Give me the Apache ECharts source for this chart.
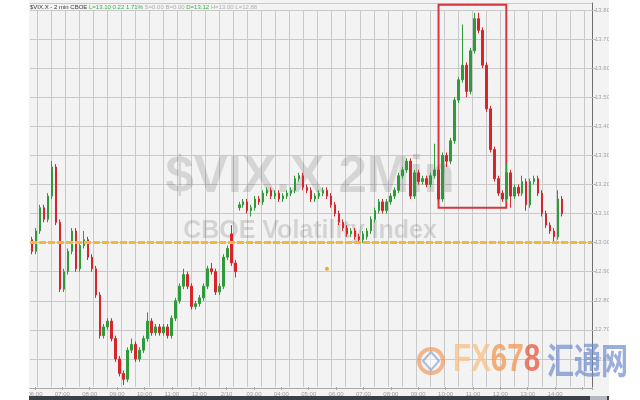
<!DOCTYPE html>
<html><head><meta charset="utf-8">
<script src="https://cdn.jsdelivr.net/npm/echarts@6/dist/echarts.min.js"></script>
<style>html,body{margin:0;padding:0;background:#fff}#c{width:640px;height:400px}</style>
</head><body><div id="c"></div>
<script>
// ---- data (VIX 2-min candles) ----
const opens=[13.01,12.97,13.04,13.12,13.08,13.16,13.26,13.07,12.84,12.90,
12.97,13.04,12.91,12.99,13.01,12.95,12.91,12.82,12.68,12.71,
12.73,12.67,12.60,12.55,12.53,12.63,12.65,12.60,12.63,12.67,
12.73,12.69,12.71,12.69,12.71,12.68,12.74,12.80,12.85,12.89,
12.85,12.78,12.79,12.81,12.85,12.91,12.90,12.83,12.85,12.95,
13.03,12.93,13.12,13.13,13.14,13.11,13.12,13.15,13.14,13.17,
13.18,13.16,13.17,13.15,13.16,13.17,13.18,13.22,13.23,13.19,
13.18,13.15,13.16,13.17,13.18,13.16,13.13,13.10,13.07,13.05,
13.03,13.04,13.02,13.01,13.02,13.04,13.08,13.11,13.14,13.11,
13.14,13.16,13.18,13.23,13.25,13.28,13.16,13.24,13.21,13.22,
13.20,13.23,13.25,13.15,13.30,13.28,13.35,13.49,13.56,13.61,
13.52,13.66,13.77,13.73,13.61,13.46,13.32,13.22,13.17,13.15,
13.24,13.16,13.19,13.17,13.21,13.13,13.21,13.22,13.17,13.10,
13.06,13.04,13.02,13.15];
const closes=[12.97,13.04,13.12,13.08,13.16,13.26,13.07,12.84,12.90,12.97,
13.04,12.91,12.99,13.01,12.95,12.91,12.82,12.68,12.71,12.73,
12.67,12.60,12.55,12.53,12.63,12.65,12.60,12.63,12.67,12.73,
12.69,12.71,12.69,12.71,12.68,12.74,12.80,12.85,12.89,12.85,
12.78,12.79,12.81,12.85,12.91,12.90,12.83,12.85,12.95,12.98,
12.93,12.90,13.13,13.14,13.11,13.12,13.15,13.14,13.17,13.18,
13.16,13.17,13.15,13.16,13.17,13.18,13.22,13.23,13.19,13.18,
13.15,13.16,13.17,13.18,13.16,13.13,13.10,13.07,13.05,13.03,
13.04,13.02,13.01,13.03,13.04,13.08,13.11,13.14,13.11,13.14,
13.16,13.18,13.23,13.25,13.28,13.16,13.24,13.21,13.22,13.20,
13.23,13.25,13.15,13.30,13.28,13.35,13.49,13.56,13.61,13.52,
13.66,13.77,13.73,13.61,13.46,13.32,13.22,13.17,13.15,13.24,
13.16,13.19,13.17,13.21,13.13,13.21,13.22,13.17,13.10,13.06,
13.04,13.02,13.15,13.10];
const lows=[12.96,12.96,13.03,13.07,13.07,13.15,13.06,12.83,12.83,12.89,
12.96,12.90,12.90,12.98,12.94,12.90,12.81,12.67,12.67,12.70,
12.66,12.59,12.54,12.51,12.52,12.62,12.59,12.59,12.62,12.66,
12.68,12.68,12.68,12.68,12.67,12.67,12.73,12.79,12.84,12.84,
12.77,12.77,12.78,12.80,12.84,12.89,12.82,12.82,12.84,12.94,
12.92,12.88,13.11,13.12,13.10,13.09,13.11,13.13,13.13,13.16,
13.15,13.15,13.14,13.14,13.15,13.16,13.17,13.21,13.18,13.17,
13.14,13.14,13.15,13.16,13.15,13.12,13.09,13.06,13.04,13.02,
13.02,13.01,13.00,13.00,13.01,13.03,13.07,13.10,13.10,13.10,
13.13,13.15,13.17,13.22,13.24,13.15,13.15,13.20,13.20,13.19,
13.19,13.22,13.14,13.14,13.26,13.27,13.34,13.48,13.55,13.50,
13.51,13.65,13.72,13.60,13.45,13.31,13.21,13.16,13.14,13.14,
13.12,13.15,13.16,13.16,13.11,13.12,13.20,13.16,13.09,13.05,
13.03,13.00,13.01,13.09];
const highs=[13.02,13.05,13.13,13.13,13.17,13.28,13.27,13.08,12.91,12.98,
13.05,13.05,13.00,13.04,13.02,12.96,12.92,12.83,12.72,12.74,
12.74,12.68,12.61,12.56,12.64,12.67,12.66,12.64,12.68,12.76,
12.74,12.72,12.72,12.72,12.72,12.75,12.81,12.86,12.91,12.90,
12.86,12.80,12.82,12.86,12.92,12.93,12.91,12.86,12.96,12.99,
13.06,12.94,13.14,13.15,13.15,13.13,13.16,13.16,13.18,13.19,
13.19,13.18,13.18,13.17,13.18,13.19,13.23,13.24,13.24,13.20,
13.19,13.17,13.18,13.19,13.19,13.17,13.14,13.11,13.08,13.06,
13.05,13.05,13.03,13.04,13.05,13.09,13.12,13.15,13.15,13.15,
13.17,13.19,13.24,13.26,13.29,13.29,13.25,13.25,13.23,13.23,
13.24,13.34,13.26,13.31,13.31,13.36,13.50,13.57,13.75,13.62,
13.67,13.79,13.79,13.74,13.62,13.47,13.33,13.23,13.18,13.27,
13.25,13.20,13.20,13.23,13.22,13.22,13.23,13.23,13.18,13.11,
13.07,13.05,13.18,13.16];
const slotCount = 141;            // candle slots on the axis (incl. empty future)
const timeLabels = ["06:00","07:00","08:00","09:00","10:00","11:00","12:00","2/10","03:00","04:00",
"05:00","06:00","07:00","08:00","09:00","10:00","11:00","12:00","13:00","14:00"];
const priceMin = 12.5, priceMax = 13.824, priceStep = 0.1;
const refLevel = 13.00;           // orange dashed level
const lastPrice = 13.10;          // green price tag
const boxSlots = [102, 119];      // red highlight box (slots)
const boxPrices = [13.12, 13.818]; // red highlight box (price range)
const eventMark = [74, 12.91];    // small orange marker
const headerParts = ["$VIX.X - 2 min CBOE","L=13.10 0.22 1.71%","S=0.00 B=0.00","D=13.12","H=13.00 L=12.88"];

// ---- chart ----
const slots = Array.from({length: slotCount}, (_, i) => i);
const candles = opens.map((o, i) => [o, closes[i], lows[i], highs[i]]);
const UP = '#2f9a3a', DOWN = '#d6262b';
const onStep = v => Math.abs(v * 10 - Math.round(v * 10)) < 1e-6;
const chart = echarts.init(document.getElementById('c'), null, {renderer:'canvas', width:640, height:400});
const option = {
  animation:false,
  backgroundColor:'#f3f3f3',
  grid:[
    {left:30, right:48, top:3, bottom:12, outerBoundsMode:'none'},
    {left:37, right:48, top:10, bottom:13, outerBoundsMode:'none'},
    {left:35, right:48, top:10, bottom:13, outerBoundsMode:'none'}
  ],
  xAxis:[
    {type:'category', gridIndex:0, data:slots, boundaryGap:true,
     axisLine:{show:true, lineStyle:{color:'#a9a9a9'}}, axisTick:{show:false}, axisLabel:{show:false}, splitLine:{show:false}},
    {type:'value', gridIndex:1, min:0, max:39.55, interval:1,
     axisLine:{show:false}, axisTick:{show:false}, axisLabel:{show:false},
     splitLine:{show:true, lineStyle:{color:'#c9c9c9', width:1}}},
    {type:'value', gridIndex:2, min:0, max:20.35, interval:1,
     axisLine:{show:false}, axisTick:{show:true, length:3, lineStyle:{color:'#aaaaaa'}},
     axisLabel:{fontSize:6, color:'#9c9c9c', margin:4, fontFamily:'Arial, "Liberation Sans", sans-serif',
       formatter:v => (Number.isInteger(v) && v < timeLabels.length) ? timeLabels[v] : ''},
     splitLine:{show:false}}
  ],
  yAxis:[
    {type:'value', gridIndex:0, position:'right', min:priceMin, max:priceMax, interval:priceStep,
     axisLine:{show:true, lineStyle:{color:'#6e6e6e'}},
     axisTick:{show:true, length:4, lineStyle:{color:'#bbbbbb'}},
     axisLabel:{fontSize:6, color:'#a3a3a3', margin:3, showMinLabel:false, showMaxLabel:false,
       fontFamily:'Arial, "Liberation Sans", sans-serif', formatter:v => onStep(v) ? v.toFixed(2) : ''},
     splitLine:{show:true, lineStyle:{color:'#c9c9c9', width:1}}},
    {type:'value', gridIndex:1, show:false, min:0, max:1},
    {type:'value', gridIndex:2, show:false, min:0, max:1}
  ],
  series:[{
    type:'candlestick', xAxisIndex:0, yAxisIndex:0, data:candles, barWidth:2, clip:false, z:3,
    itemStyle:{color:UP, color0:DOWN, borderColor:UP, borderColor0:DOWN, borderWidth:1},
    markLine:{silent:true, symbol:['none','none'], animation:false, data:[
      {yAxis:refLevel, lineStyle:{color:'#f3b63e', width:3, type:[7,2]}, label:{show:false}},
      {yAxis:lastPrice, lineStyle:{opacity:0}, label:{show:true, position:'end', distance:1,
        formatter:lastPrice.toFixed(2), backgroundColor:UP, color:'#ffffff', fontSize:6,
        padding:[1,2,1,2], fontFamily:'Arial, "Liberation Sans", sans-serif'}}
    ]},
    markArea:{silent:true, itemStyle:{color:'rgba(0,0,0,0)', borderColor:'#d8353d', borderWidth:2},
      data:[[{xAxis:boxSlots[0], yAxis:boxPrices[1]}, {xAxis:boxSlots[1], yAxis:boxPrices[0]}]]},
    markPoint:{silent:true, symbol:'circle', symbolSize:4, itemStyle:{color:'#f0a830'}, label:{show:false},
      data:[{coord:eventMark}]}
  }],
  graphic:[
    {type:'text', x:310, y:178, z:1, silent:true,
     style:{text:'$VIX.X 2Min', font:'bold 51px "Liberation Sans", Arial, sans-serif', fill:'rgba(0,0,0,0.12)',
       textAlign:'center', textVerticalAlign:'middle'}},
    {type:'text', x:310, y:231, z:1, silent:true,
     style:{text:'CBOE Volatility Index', font:'bold 25px "Liberation Sans", Arial, sans-serif', fill:'rgba(0,0,0,0.13)',
       textAlign:'center', textVerticalAlign:'middle'}},
    {type:'rect', z:100, silent:true, shape:{x:0, y:0, width:29, height:400}, style:{fill:'#ffffff'}},
    {type:'rect', z:100, silent:true, shape:{x:609, y:0, width:31, height:400}, style:{fill:'#ffffff'}},
    {type:'rect', z:100, silent:true, shape:{x:29, y:396, width:580, height:4}, style:{fill:'#3c4147'}},
    {type:'rect', z:101, silent:true, shape:{x:590, y:396, width:17, height:4}, style:{fill:'#b5b9bd'}},
    {type:'text', x:30, y:4, z:100, silent:true,
     style:{text:'{a|'+headerParts[0]+'} {g|'+headerParts[1]+'} {s|'+headerParts[2]+'} {g|'+headerParts[3]+'} {s|'+headerParts[4]+'}',
       font:'6px Arial, "Liberation Sans", sans-serif', textVerticalAlign:'top',
       rich:{a:{fill:'#3a3a3a', fontSize:6}, g:{fill:'#37b34a', fontSize:6}, s:{fill:'#b0b0b0', fontSize:6}}}},
    {type:'circle', z:110, silent:true, shape:{cx:431, cy:361, r:12}, style:{fill:'rgba(255,255,255,0.25)', stroke:'rgba(242,140,70,0.6)', lineWidth:4}},
    {type:'polygon', z:111, silent:true, shape:{points:[[431,352],[439,361],[431,370],[423,361]]}, style:{fill:'rgba(255,255,255,0.3)', stroke:'rgba(100,140,205,0.55)', lineWidth:2}},
    {type:'text', x:453, y:361, z:110, silent:true, scaleX:0.78, scaleY:1,
     style:{text:'{a|FX}{b|67}{c|8}', font:'bold 38px "Liberation Sans", Arial, sans-serif', textVerticalAlign:'middle',
       rich:{a:{fill:'rgba(246,195,140,0.8)', fontSize:38, fontWeight:'bold'}, b:{fill:'rgba(243,155,85,0.8)', fontSize:38, fontWeight:'bold'}, c:{fill:'rgba(232,95,75,0.8)', fontSize:38, fontWeight:'bold'}}}},
    {type:'text', x:547, y:360, z:110, silent:true, scaleX:0.75, scaleY:1,
     style:{text:'汇通网', font:'bold 36px "Noto Sans CJK SC", sans-serif', fill:'rgba(110,140,205,0.7)', textVerticalAlign:'middle'}}
  ]
};
chart.setOption(option);
</script>
</body></html>
